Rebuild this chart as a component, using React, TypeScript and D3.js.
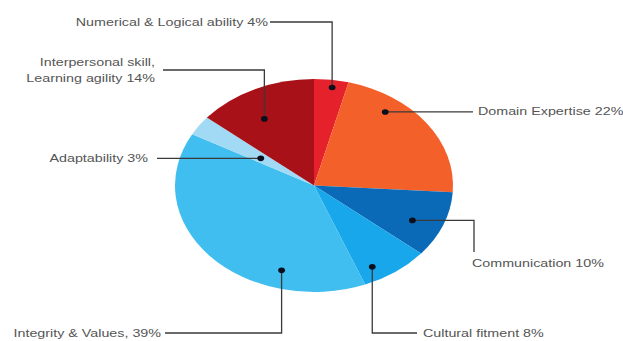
import React from "react";
import * as d3 from "d3";

const categories = [
  "Numerical & Logical ability",
  "Domain Expertise",
  "Communication",
  "Cultural fitment",
  "Integrity & Values",
  "Adaptability",
  "Interpersonal skill, Learning agility",
];
const values = [4, 22, 10, 8, 39, 3, 14];
const labelLines = [
  ["Numerical & Logical ability 4%"],
  ["Domain Expertise 22%"],
  ["Communication 10%"],
  ["Cultural fitment 8%"],
  ["Integrity & Values, 39%"],
  ["Adaptability 3%"],
  ["Interpersonal skill,", "Learning agility 14%"],
];
const colors = ["#e5222b", "#f4602a", "#0b6ab7", "#18a7ea", "#41bef0", "#a2d9f4", "#a81117"];

// annotation layout: dot inside slice (t = fraction of slice angle, r = radius fraction),
// leader path via elbow points, label anchor
const W = 623, H = 341;
const cx = 314, cy = 185.5, rx = 139, ry = 106.5;
const sx = 1.3;

type Lay = { t: number; r: number; path: (d: [number, number]) => [number, number][]; tx: number; ty: number; anchor: string };
const layout: Lay[] = [
  { t: 0.56, r: 0.93, path: (d) => [d, [d[0], 22], [270, 22]], tx: 268, ty: 26, anchor: "end" },
  { t: 0.28, r: 0.86, path: (d) => [d, [473, d[1]]], tx: 478, ty: 115, anchor: "start" },
  { t: 0.59, r: 0.78, path: (d) => [d, [474, d[1]], [474, 252]], tx: 472, ty: 267, anchor: "start" },
  { t: 0.75, r: 0.87, path: (d) => [d, [d[0], 333], [417, 333]], tx: 423, ty: 337, anchor: "start" },
  { t: 0.27, r: 0.83, path: (d) => [d, [d[0], 333], [165, 333]], tx: 161, ty: 337, anchor: "end" },
  { t: 0.45, r: 0.46, path: (d) => [d, [157, d[1]]], tx: 148, ty: 162, anchor: "end" },
  { t: 0.41, r: 0.72, path: (d) => [d, [d[0], 70], [163, 70]], tx: 155, ty: 66, anchor: "end" },
];

export default function App() {
  const pie = d3.pie<number>().sort(null).value((v) => v)(values);
  const arc = d3.arc<d3.PieArcDatum<number>>().innerRadius(0).outerRadius(ry);
  const k = rx / ry;
  const line = d3.line();
  return (
    <svg width={W} height={H} style={{ position: "absolute", left: 0, top: 0, background: "#fff" }}
      fontFamily="'Liberation Sans', Arial, sans-serif">
      <g transform={`translate(${cx},${cy}) scale(${k},1)`}>
        {pie.map((p, i) => (
          <path key={categories[i]} d={arc(p) || ""} fill={colors[i]} />
        ))}
      </g>
      {pie.map((p, i) => {
        const L = layout[i];
        const a = p.startAngle + L.t * (p.endAngle - p.startAngle);
        const dot: [number, number] = [cx + Math.sin(a) * rx * L.r, cy - Math.cos(a) * ry * L.r];
        const pts = L.path(dot);
        return (
          <g key={"l" + i}>
            <path d={line(pts) || ""} fill="none" stroke="#3a3a3a" strokeWidth={1.3} />
            <ellipse cx={dot[0]} cy={dot[1]} rx={3.4} ry={2.8} fill="#0a0f1e" />
            <text transform={`translate(${L.tx},${L.ty}) scale(${sx},1)`} textAnchor={L.anchor}
              fontSize={11} fill="#555">
              {labelLines[i].map((s, j) => (
                <tspan key={j} x={0} dy={j === 0 ? 0 : 16}>{s}</tspan>
              ))}
            </text>
          </g>
        );
      })}
    </svg>
  );
}
